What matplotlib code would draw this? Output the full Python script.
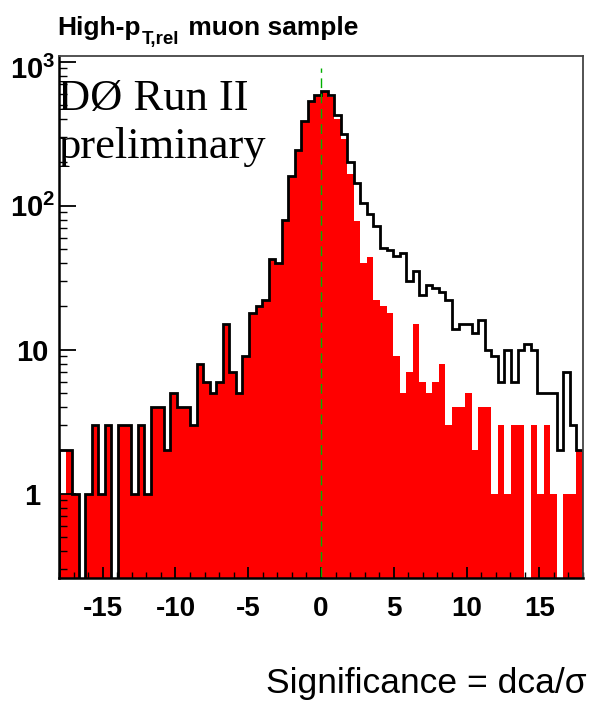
import numpy as np
import matplotlib
matplotlib.use("Agg")
import matplotlib.pyplot as plt
from matplotlib.ticker import FixedLocator, NullFormatter

plt.rcParams['font.family'] = ['Liberation Sans', 'DejaVu Sans']
plt.rcParams['mathtext.fontset'] = 'custom'
plt.rcParams['mathtext.rm'] = 'Liberation Sans:bold'
plt.rcParams['mathtext.it'] = 'Liberation Sans:bold'
plt.rcParams['mathtext.bf'] = 'Liberation Sans:bold'

# ---- data ----
bin_edges = np.linspace(-18, 18, 81)   # 80 bins of 0.45

all_muons = [2, 2, 1, 0, 1, 3, 1, 3, 0, 3,
             3, 1, 3, 1, 4, 4, 2, 5, 4, 4,
             3, 8, 6, 5, 6, 15, 7, 5, 9, 18,
             20, 22, 43, 40, 80, 160, 245, 385, 535, 590,
             625, 585, 430, 315, 200, 145, 105, 88, 72, 51,
             49, 45, 47, 30, 35, 24, 28, 27, 25, 22,
             14, 15, 15, 13, 16, 10, 9, 6, 10, 6,
             10, 11, 10, 5, 5, 5, 2, 7, 3, 2]

prompt_muons = [1, 2, 1, 0, 1, 3, 1, 3, 0, 3,
                3, 1, 3, 1, 4, 4, 2, 5, 4, 4,
                3, 8, 6, 5, 6, 15, 7, 5, 9, 18,
                20, 22, 43, 40, 80, 160, 245, 385, 535, 590,
                625, 570, 400, 290, 165, 78, 40, 44, 22, 20,
                18, 9, 5, 7, 15, 6, 5, 6, 8, 3,
                4, 4, 5, 2, 4, 4, 1, 3, 1, 3,
                3, 0, 3, 1, 3, 1, 0, 1, 1, 2]

x_ticks = [-15, -10, -5, 0, 5, 10, 15]
y_ticks = [1, 10, 100, 1000]
y_ticklabels = ['1', '10', r'$10^{2}$', '']
top_label = r'$10^{3}$'
center_x = 0
center_top = 900

# ---- figure ----
W, H = 592, 713
fig = plt.figure(figsize=(W / 100, H / 100), dpi=100)
fig.patch.set_facecolor('white')
ax = fig.add_axes([59 / W, 1 - 578 / H, (583 - 59) / W, (578 - 56) / H])
ax.set_yscale('log')
ax.set_xlim(-18, 18)
ax.set_ylim(0.26, 1096)

floor = 1e-3
red_vals = np.where(np.array(prompt_muons) > 0, prompt_muons, floor)
blk_vals = np.where(np.array(all_muons) > 0, all_muons, floor)

ax.stairs(red_vals, bin_edges, fill=True, color='#ff0000', baseline=floor,
          linewidth=0, zorder=1)
ax.stairs(blk_vals, bin_edges, color='black', baseline=floor,
          linewidth=2.0, zorder=1.5)
ax.plot([center_x, center_x], [floor, center_top], color='#00b000',
        linewidth=1.0, linestyle=(0, (7, 4)), zorder=3)

# ticks
ax.xaxis.set_major_locator(FixedLocator(x_ticks))
ax.xaxis.set_minor_locator(FixedLocator(np.arange(-18, 19, 1)))
ax.set_xticklabels([str(t) for t in x_ticks])
ax.yaxis.set_major_locator(FixedLocator(y_ticks))
minor = [m * 10.0 ** e for e in range(-1, 3) for m in range(2, 10)]
ax.yaxis.set_minor_locator(FixedLocator(minor))
ax.yaxis.set_minor_formatter(NullFormatter())
ax.set_yticklabels(y_ticklabels)

ax.tick_params(axis='x', which='major', direction='in', length=8, width=1.3,
               pad=13, labelsize=20)
ax.tick_params(axis='x', which='minor', direction='in', length=4, width=1.0)
ax.tick_params(axis='y', which='major', direction='in', length=12, width=1.3,
               pad=19, labelsize=21)
ax.tick_params(axis='y', which='minor', direction='in', length=6, width=1.0)
ax.tick_params(top=False, right=False, which='both')
for lab in ax.get_xticklabels():
    lab.set_fontweight('bold')
for lab in ax.get_yticklabels():
    lab.set_fontweight('bold')
    lab.set_horizontalalignment('center')

# top decade label sits a little lower than its tick, as in the original
ax.annotate(top_label, xy=(0, y_ticks[-1]), xycoords=('axes fraction', 'data'),
            xytext=(-26, -9), textcoords='offset pixels', fontsize=21,
            fontweight='bold', ha='center', va='center', annotation_clip=False)

for side in ['left', 'bottom']:
    ax.spines[side].set_linewidth(1.8)
    ax.spines[side].set_color('black')
for side in ['top', 'right']:
    ax.spines[side].set_linewidth(1.3)
    ax.spines[side].set_color('#444444')

# title built from pieces (subscript lowered like the original)
renderer = fig.canvas.get_renderer()
x0 = 57
base = 35
t1 = fig.text(x0 / W, 1 - base / H, 'High-p', fontsize=19, fontweight='bold',
              ha='left', va='baseline')
x1 = t1.get_window_extent(renderer).x1 + 1
t2 = fig.text(x1 / W, 1 - (base + 9) / H, 'T,rel', fontsize=13.5,
              fontweight='bold', ha='left', va='baseline')
x2 = t2.get_window_extent(renderer).x1 + 2
fig.text(x2 / W, 1 - base / H, ' muon sample', fontsize=19, fontweight='bold',
         ha='left', va='baseline')

fig.text(58 / W, 1 - 110 / H, 'DØ Run II', fontsize=32,
         family=['Liberation Serif', 'DejaVu Serif'], ha='left', va='baseline')
fig.text(58 / W, 1 - 158 / H, 'preliminary', fontsize=32,
         family=['Liberation Serif', 'DejaVu Serif'], ha='left', va='baseline')
fig.text(587 / W, 1 - 693 / H, 'Significance = dca/σ', fontsize=25.5,
         ha='right', va='baseline')

fig.savefig('out.png', dpi=100)
